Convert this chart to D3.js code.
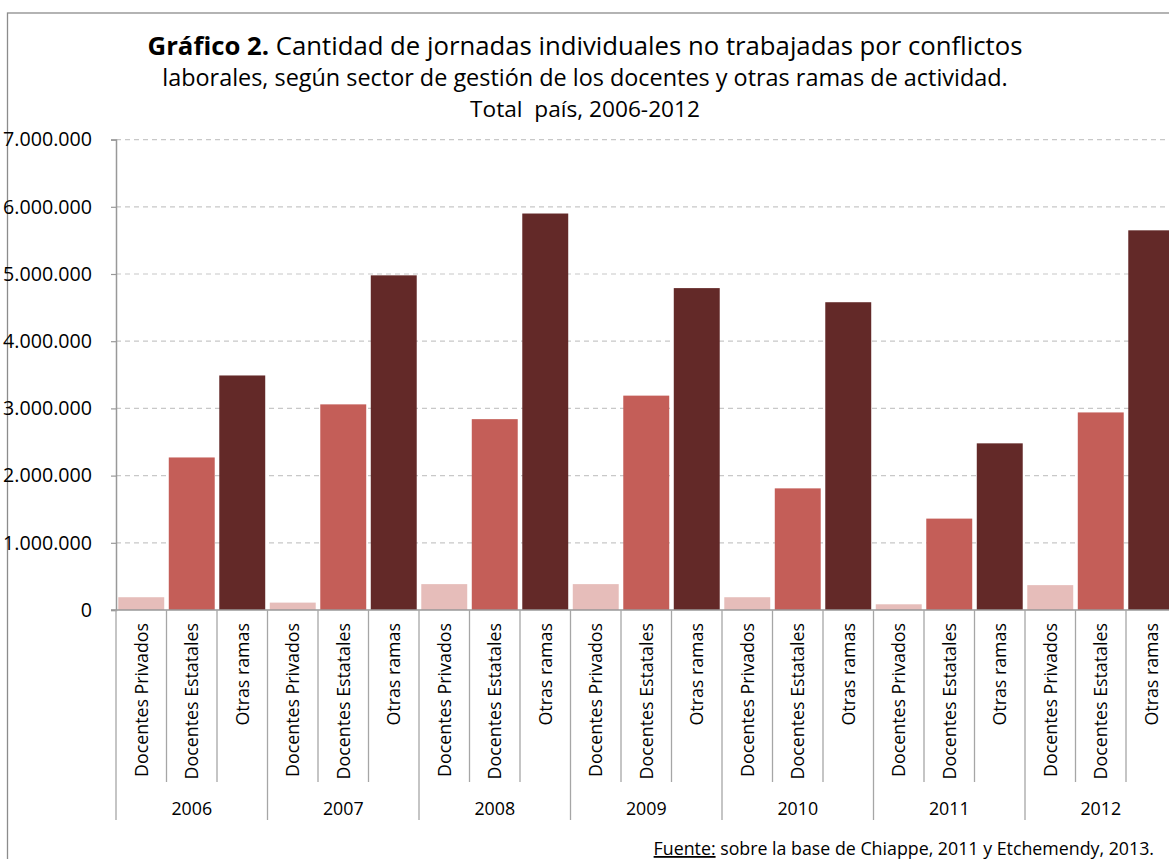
<!DOCTYPE html>
<html><head><meta charset="utf-8">
<script src="https://cdn.jsdelivr.net/npm/d3@7"></script>
<style>
html,body{margin:0;padding:0;background:#fff;overflow:hidden;}
svg{display:block;}
text{font-family:"Open Sans","Lato",sans-serif;fill:#000;}
</style></head>
<body>
<svg id="chart" width="1169" height="859"></svg>
<script>
const years = ["2006","2007","2008","2009","2010","2011","2012"];
const sectors = ["Docentes Privados","Docentes Estatales","Otras ramas"];
const docentesPrivados = [190000, 110000, 385000, 385000, 190000, 85000, 370000];
const docentesEstatales = [2270000, 3060000, 2840000, 3190000, 1810000, 1360000, 2940000];
const otrasRamas = [3490000, 4980000, 5900000, 4790000, 4580000, 2480000, 5650000];
const yTicks = [0, 1000000, 2000000, 3000000, 4000000, 5000000, 6000000, 7000000];
const titleLines = [
  ["Gráfico 2.", " Cantidad de jornadas individuales no trabajadas por conflictos"],
  ["", "laborales, según sector de gestión de los docentes y otras ramas de actividad."],
  ["", "Total  país, 2006-2012"]
];
const sourceLabel = "Fuente:";
const sourceText = " sobre la base de Chiappe, 2011 y Etchemendy, 2013.";

const colors = {"Docentes Privados":"#e6bdba","Docentes Estatales":"#c45e58","Otras ramas":"#632928"};
const seriesVals = {"Docentes Privados":docentesPrivados,"Docentes Estatales":docentesEstatales,"Otras ramas":otrasRamas};

const rows = [];
years.forEach((y,i)=>sectors.forEach(s=>rows.push({year:y, sector:s, key:y+"|"+s, value:seriesVals[s][i]})));

const svg = d3.select("#chart");
const left = 116, zeroY = 610, topY = 139.6, bandW = 50.5;
const x = d3.scaleBand().domain(rows.map(r=>r.key)).range([left, left + bandW*rows.length]).paddingInner(0.09).paddingOuter(0.045);
const y = d3.scaleLinear().domain([0,7000000]).range([zeroY, topY]);

function fit(node, target){
  const s = parseFloat(getComputedStyle(node).fontSize);
  const w = node.getComputedTextLength();
  if (w > 0) d3.select(node).style("font-size", (s*target/w).toFixed(2)+"px");
}

// outer border
svg.append("rect").attr("x",7.5).attr("y",13).attr("width",1200).attr("height",900)
  .attr("fill","none").attr("stroke","#8c8c8c").attr("stroke-width",1.3);

// title
const titleW = [875, 846, 230];
const tg = svg.append("g");
titleLines.forEach((ln,i)=>{
  const t = tg.append("text").attr("x",585).attr("y",55+i*31).attr("text-anchor","middle")
    .style("font-size","20px").style("white-space","pre");
  if(ln[0]) t.append("tspan").attr("font-weight","bold").text(ln[0]);
  t.append("tspan").text(ln[1]);
  fit(t.node(), titleW[i]);
});

// gridlines
svg.append("g").selectAll("line").data(yTicks.filter(d=>d>0)).join("line")
  .attr("x1",left).attr("x2",1169).attr("y1",d=>y(d)).attr("y2",d=>y(d))
  .attr("stroke","#c8c8c8").attr("stroke-width",1.2).attr("stroke-dasharray","5,4");

// bars
svg.append("g").selectAll("rect").data(rows).join("rect")
  .attr("x",d=>x(d.key)).attr("width",x.bandwidth())
  .attr("y",d=>y(d.value)).attr("height",d=>y(0)-y(d.value))
  .attr("fill",d=>colors[d.sector]);

// y axis
const fmt = v => v===0 ? "0" : d3.format(",")(v).replace(/,/g,".");
const ya = svg.append("g").attr("transform",`translate(${left},0)`)
  .call(d3.axisLeft(y).tickValues(yTicks).tickFormat(fmt).tickSize(5).tickPadding(19));
ya.select(".domain").attr("stroke","#999").attr("stroke-width",1.5);
ya.selectAll(".tick line").attr("stroke","#999").attr("stroke-width",1.2);
ya.selectAll(".tick text").style("font-family",'"Open Sans","Lato",sans-serif').attr("fill","#000").style("font-size","16px");
const yl = ya.select(".tick:last-of-type text").node();
fit(yl, 89);
const ySize = yl.style.fontSize;
ya.selectAll(".tick text").style("font-size", ySize);

// x axis baseline
svg.append("line").attr("x1",left-5).attr("x2",1169).attr("y1",zeroY).attr("y2",zeroY)
  .attr("stroke","#999").attr("stroke-width",1.5);

// category separators
const step = x.step();
const x0 = x.range()[0];
svg.append("g").selectAll("line").data(d3.range(rows.length+1)).join("line")
  .attr("x1",i=>x0+i*step).attr("x2",i=>x0+i*step)
  .attr("y1",zeroY).attr("y2",i=> i%3===0 ? 820 : 782)
  .attr("stroke","#a6a6a6").attr("stroke-width",1.3);

// category labels
const cl = svg.append("g").selectAll("text").data(rows).join("text")
  .attr("transform",d=>`translate(${x(d.key)+x.bandwidth()/2+6.5},623) rotate(-90)`)
  .attr("text-anchor","end").style("font-size","16px").text(d=>d.sector);
fit(cl.nodes()[0], 154);
const cSize = cl.nodes()[0].style.fontSize;
cl.style("font-size", cSize);

// year labels
svg.append("g").selectAll("text").data(years).join("text")
  .attr("x",(d,i)=>x0+(i*3+1.5)*step).attr("y",815).attr("text-anchor","middle")
  .style("font-size", cSize).text(d=>d);

// source
const st = svg.append("text").attr("x",1154).attr("y",855).attr("text-anchor","end").style("font-size","15px");
st.append("tspan").attr("text-decoration","underline").text(sourceLabel);
st.append("tspan").text(sourceText);
fit(st.node(), 501);
</script>
</body></html>
